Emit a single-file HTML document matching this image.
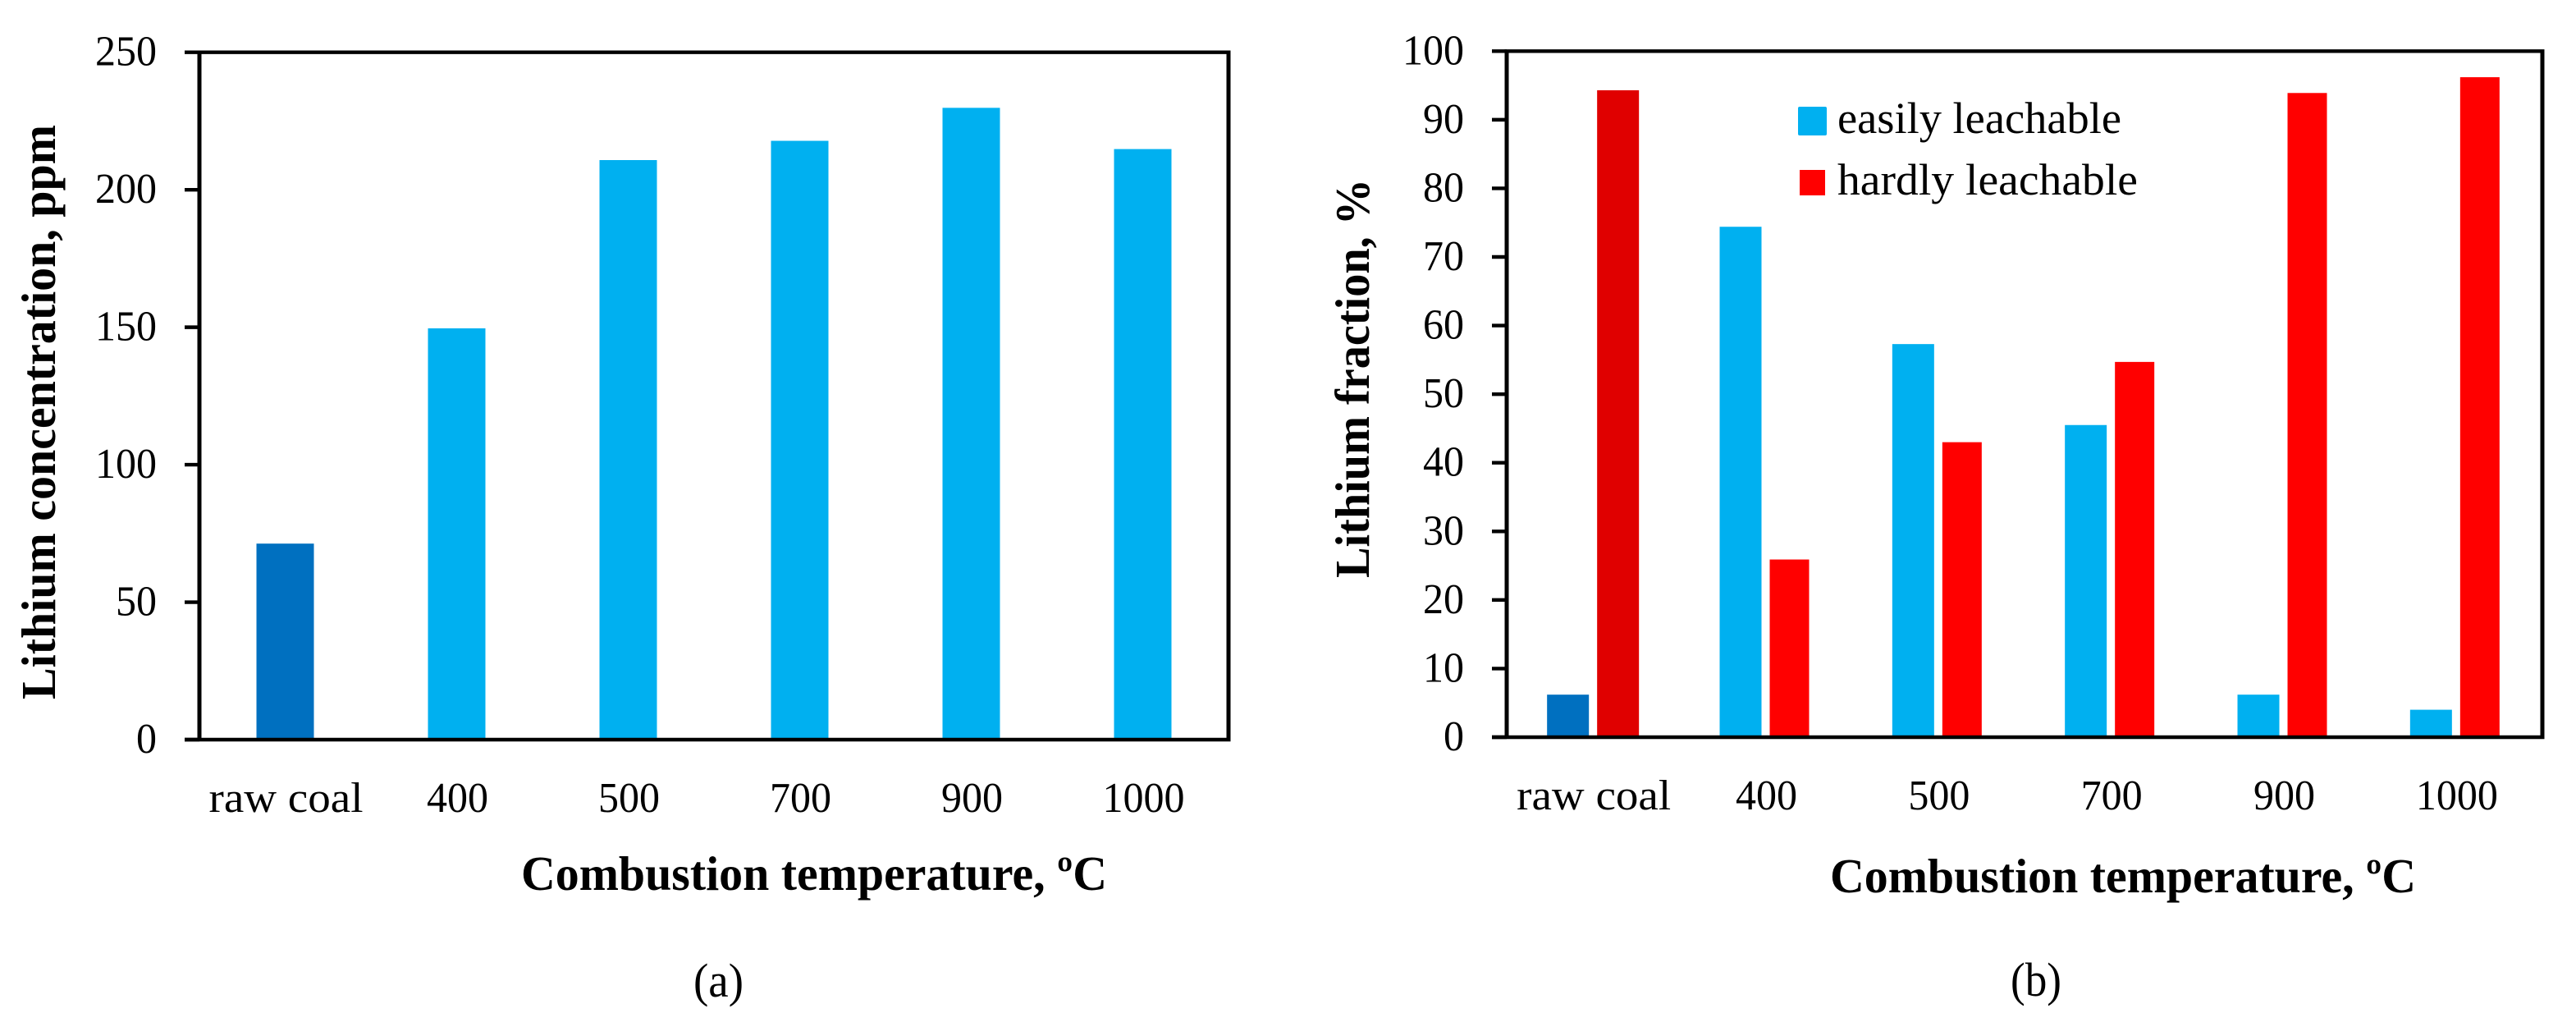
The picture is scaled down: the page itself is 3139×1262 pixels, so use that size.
<!DOCTYPE html>
<html lang="en">
<head>
<meta charset="utf-8">
<title>Lithium concentration and fraction vs combustion temperature</title>
<style>
html,body{margin:0;padding:0;background:#fff;}
svg{display:block;}
text{font-family:"Liberation Serif",serif;fill:#000;}
</style>
</head>
<body>
<svg id="figure" xmlns="http://www.w3.org/2000/svg" width="3139" height="1262" viewBox="0 0 3139 1262"></svg>
<script>
const categories = ['raw coal', '400', '500', '700', '900', '1000'];
const concentrationValues = [71.3, 149.6, 210.8, 217.8, 229.8, 214.8];
const easilyValues = [6.2, 74.4, 57.3, 45.5, 6.2, 4];
const hardlyValues = [94.3, 25.9, 43, 54.7, 93.9, 96.2];
const concentrationTicks = [0, 50, 100, 150, 200, 250];
const fractionTicks = [0, 10, 20, 30, 40, 50, 60, 70, 80, 90, 100];

const NS = 'http://www.w3.org/2000/svg';
const svg = document.getElementById('figure');
function make(tag, attrs, parent, content) {
  const el = document.createElementNS(NS, tag);
  for (const k in attrs) el.setAttribute(k, attrs[k]);
  if (content !== undefined) el.textContent = content;
  (parent || svg).appendChild(el);
  return el;
}
const BLACK = '#000';
const panelA = { left: 243, right: 1497, top: 63.7, bottom: 901, max: 250 };
const panelB = { left: 1836, right: 3098, top: 62.3, bottom: 898, max: 100 };
function yScale(p, v) { return p.bottom - v * (p.bottom - p.top) / p.max; }
function xBand(p, i) { return p.left + (i + 0.5) * (p.right - p.left) / categories.length; }

function drawFrame(p, group) {
  [[p.left - 2.5, p.top, p.right + 2.5, p.top, 4.4], [p.left - 18, p.bottom, p.right + 2.5, p.bottom, 4.4],
   [p.left, p.top, p.left, p.bottom, 5], [p.right, p.top, p.right, p.bottom, 5]].forEach(function (s) {
    const axisLine = make('line', { x1: s[0], y1: s[1], x2: s[2], y2: s[3], stroke: BLACK, 'stroke-width': s[4] }, group);
    
    
  });
}
function drawYTicks(p, ticks, labelRight, group) {
  ticks.forEach(function (t) {
    const y = yScale(p, t);
    const tick = make('line', { x1: p.left - 18, y1: y, x2: p.left, y2: y, stroke: BLACK, 'stroke-width': 4.4 }, group);
    
    
    const str = String(t);
    const label = make('text', { x: labelRight, y: y + 16, 'text-anchor': 'end', 'font-size': 52, textLength: str.length * 25, lengthAdjust: 'spacingAndGlyphs' }, group, str);
    
    
  });
}
function drawXLabels(p, baseline, group) {
  categories.forEach(function (c, i) {
    const width = c === 'raw coal' ? 188 : c.length * 25;
    const attrs = { x: xBand(p, i) + 1, y: baseline, 'text-anchor': 'middle', 'font-size': 52, textLength: width, lengthAdjust: 'spacingAndGlyphs' };
    const label = make('text', attrs, group, c);
    
    
  });
}
function drawBar(p, x, w, v, fill, group, name) {
  const y = yScale(p, v);
  const bar = make('rect', { x: x, y: y, width: w, height: p.bottom - y, fill: fill }, group);
  
  
}
function stretchedText(str, x, y, len, size, weight, group, transform) {
  const attrs = { x: x, y: y, textLength: len, lengthAdjust: 'spacingAndGlyphs', 'font-size': size, 'font-weight': weight };
  if (transform) attrs.transform = transform;
  return make('text', attrs, group, str);
}

/* Panel (a) */
const groupA = make('g', {});


concentrationValues.forEach(function (v, i) {
  drawBar(panelA, xBand(panelA, i) - 35, 70, v, i === 0 ? '#0070C0' : '#00B0F0', groupA, 'bar-concentration');
});
drawFrame(panelA, groupA);
drawYTicks(panelA, concentrationTicks, 191, groupA);
drawXLabels(panelA, 989, groupA);
const titleYA = stretchedText('Lithium concentration, ppm', 0, 0, 700, 59, 'bold', groupA, 'translate(67 852) rotate(-90)');


const titleXA = stretchedText('Combustion temperature, ºC', 635, 1084, 714, 59, 'bold', groupA);


const captionA = stretchedText('(a)', 845, 1214, 61, 58, 'normal', groupA);



/* Panel (b) */
const groupB = make('g', {});


easilyValues.forEach(function (v, i) {
  drawBar(panelB, xBand(panelB, i) - 56, 51, v, i === 0 ? '#0070C0' : '#00B0F0', groupB, 'bar-easily-leachable');
});
hardlyValues.forEach(function (v, i) {
  drawBar(panelB, xBand(panelB, i) + 5, i === 0 ? 51 : 48, v, i === 0 ? '#E00000' : '#FF0000', groupB, 'bar-hardly-leachable');
});
drawFrame(panelB, groupB);
drawYTicks(panelB, fractionTicks, 1784, groupB);
drawXLabels(panelB, 986, groupB);
const titleYB = stretchedText('Lithium fraction, %', 0, 0, 486, 59, 'bold', groupB, 'translate(1668 704) rotate(-90)');


const titleXB = stretchedText('Combustion temperature, ºC', 2230, 1087, 714, 59, 'bold', groupB);


const captionB = stretchedText('(b)', 2450, 1213, 62, 58, 'normal', groupB);



/* Legend */
const legend = make('g', {}, groupB);


const swatchEasy = make('rect', { x: 2191, y: 130, width: 35, height: 35, rx: 2, fill: '#00B0F0' }, legend);


const labelEasy = stretchedText('easily leachable', 2239, 162, 346, 54, 'normal', legend);


const swatchHard = make('rect', { x: 2193, y: 207, width: 31, height: 31, fill: '#FF0000' }, legend);


const labelHard = stretchedText('hardly leachable', 2239, 237, 366, 54, 'normal', legend);


</script>
</body>
</html>
